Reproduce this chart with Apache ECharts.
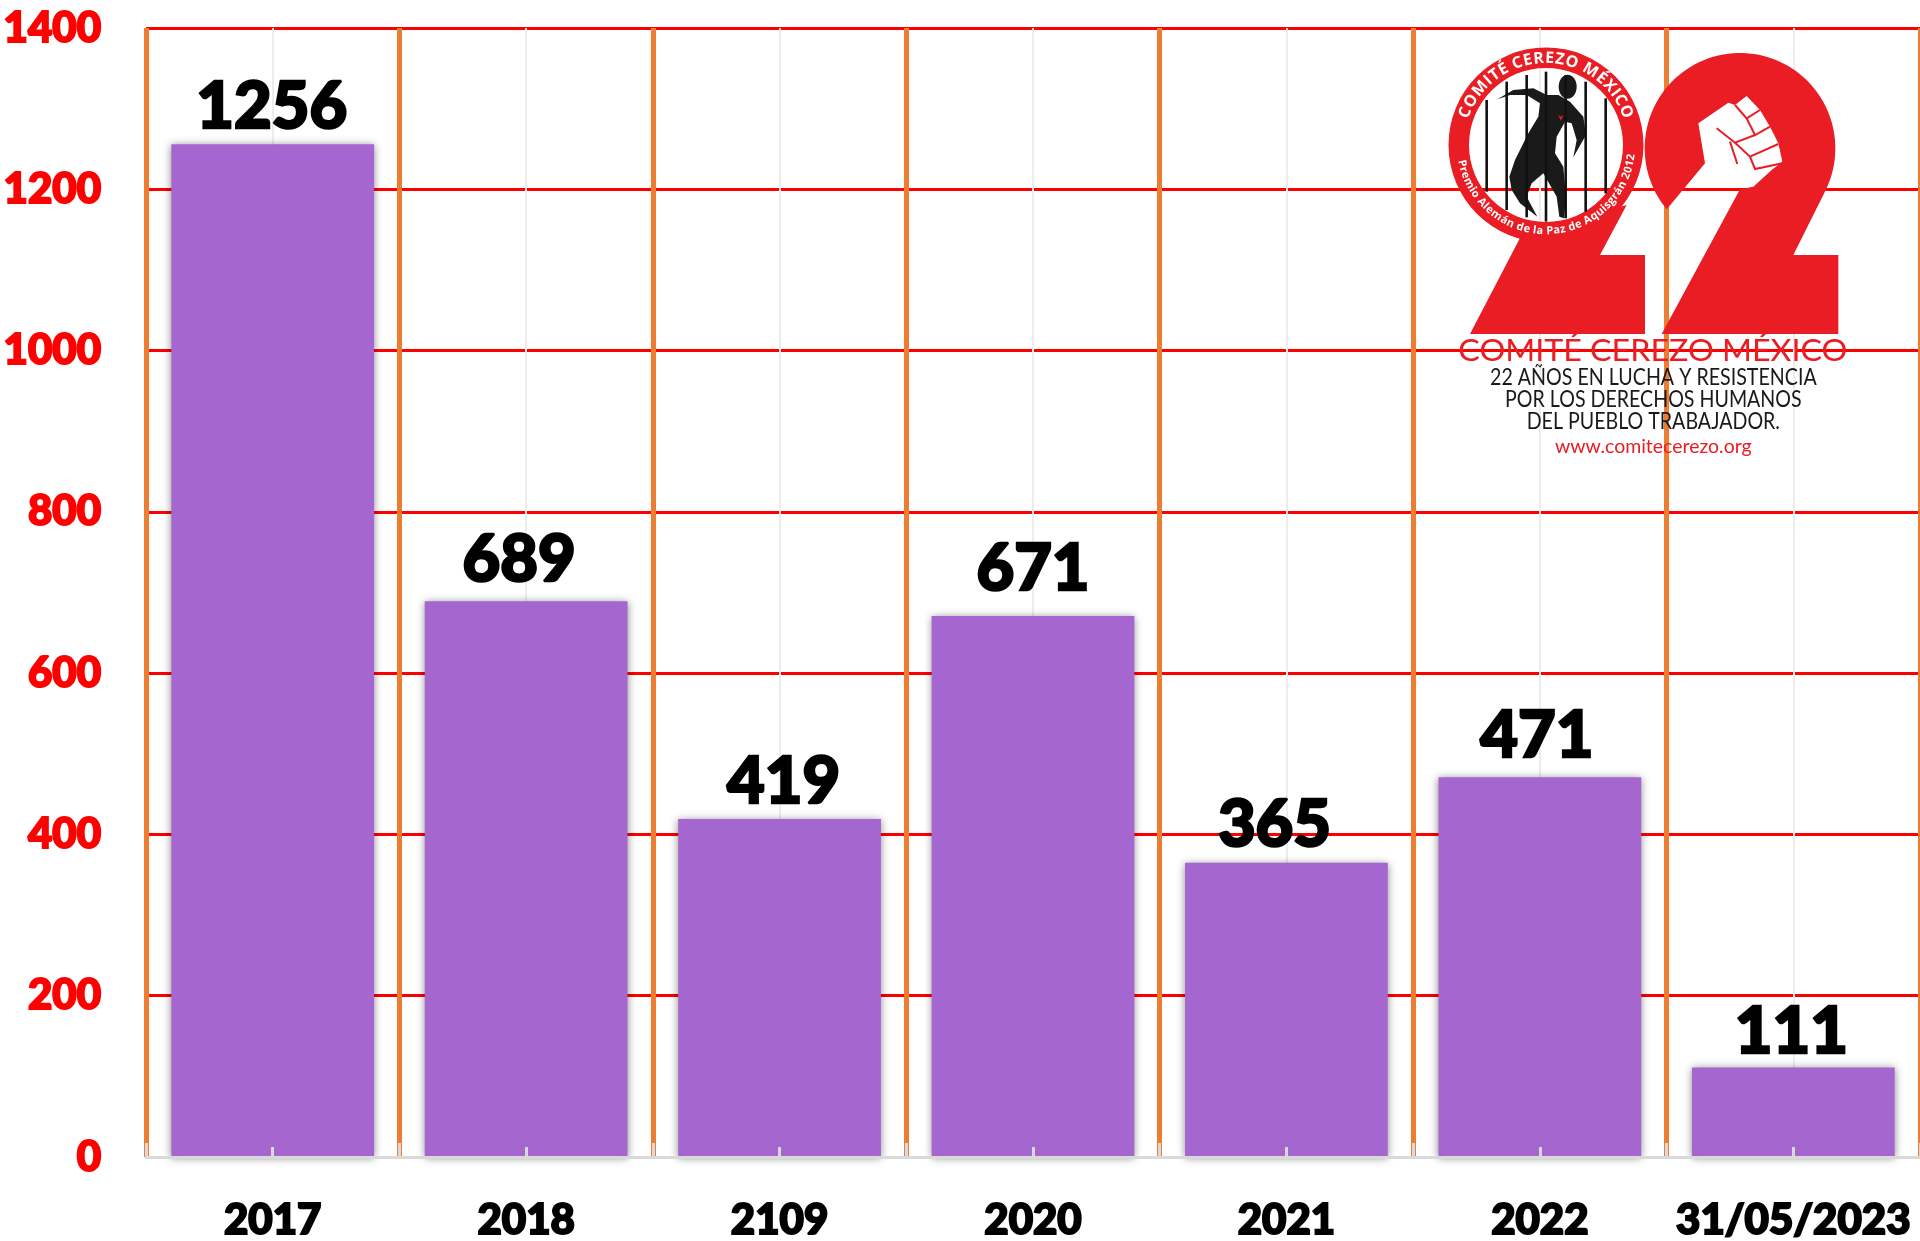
<!DOCTYPE html>
<html>
<head>
<meta charset="utf-8">
<style>html,body{margin:0;padding:0;background:#fff}#c{width:1920px;height:1241px}</style>
<script src="https://cdn.jsdelivr.net/npm/echarts@6/dist/echarts.min.js"></script>
</head>
<body>
<div id="c"></div>
<script>
const categories = ['2017','2018','2109','2020','2021','2022','31/05/2023'];
const values = [1256,689,419,671,365,471,111];
const labelOffsets = [[-1,0],[-7,-4],[4,0],[0,-9],[-12,0],[-3,-4],[-2,2]];

const RED = '#EA1C24';
const P = (x, y) => [1400 + x / 3, 20 + y / 3];
const Z = 100;
const poly = (pts, fill) => ({type:'polygon', z:Z, silent:true, shape:{points:pts.map(p => P(p[0],p[1]))}, style:{fill}});
const line = (pts, stroke, w) => ({type:'polyline', z:Z+2, silent:true, shape:{points:pts.map(p => P(p[0],p[1]))}, style:{stroke, fill:null, lineWidth:w}});
const measureCtx = document.createElement('canvas').getContext('2d');

function fitText(text, x0, x1, y, font, fill) {
  const a = P(x0, y), b = P(x1, y);
  measureCtx.font = font;
  const s = (b[0] - a[0]) / measureCtx.measureText(text).width;
  return {type:'text', z:Z+3, silent:true, x:(a[0]+b[0])/2, y:a[1], scaleX:s,
    style:{text, x:0, y:0, align:'center', verticalAlign:'middle', font, fill}};
}
function circleText(text, cx, cy, r, fromDeg, toDeg, font, bottom) {
  measureCtx.font = font;
  const widths = [...text].map(c => measureCtx.measureText(c).width);
  const total = widths.reduce((a,b) => a+b, 0);
  const out = [];
  let acc = 0;
  [...text].forEach((ch, i) => {
    const f = (acc + widths[i]/2) / total;
    acc += widths[i];
    const deg = fromDeg + (toDeg - fromDeg) * f;
    const posDeg = bottom ? 180 - deg : deg;
    const rad = posDeg * Math.PI / 180;
    const pos = P(cx + r*Math.sin(rad), cy - r*Math.cos(rad));
    const rot = bottom ? deg : -deg;
    out.push({type:'text', z:Z+3, silent:true, x:pos[0], y:pos[1], rotation:rot*Math.PI/180,
      style:{text:ch, x:0, y:0, align:'center', verticalAlign:'middle', font, fill:'#fff'}});
  });
  return out;
}
function arcPoints(cx, cy, r, a0, a1, n) {
  const pts = [];
  for (let i = 0; i <= n; i++) {
    const a = (a0 + (a1 - a0) * i / n) * Math.PI / 180;
    pts.push([cx + r*Math.cos(a), cy + r*Math.sin(a)]);
  }
  return pts;
}

const ringC = P(438, 375);
const logo = [
  poly([[362,650],[210,942],[735,942],[735,705],[600,705],[680,555]], RED),
  poly(arcPoints(1020,385,286,25.7,-219.8,80).concat([
    [915,430],[895,310],[985,248],[1005,255],[1040,228],[1080,270],[1110,320],[1135,370],[1147,425],
    [1115,450],[1060,500],[1020,508],[785,942],[1315,942],[1315,705],[1180,705]]), RED),
  line([[1005,255],[1040,295],[1080,270]], RED, 2),
  line([[1040,295],[1065,345],[1110,320]], RED, 2),
  line([[1065,345],[1005,368],[950,325]], RED, 2),
  line([[1005,368],[1050,410],[1135,372]], RED, 2),
  line([[1050,410],[1065,447],[1147,430]], RED, 2),
  line([[990,365],[1012,432]], RED, 2),
  {type:'ring', z:Z+1, silent:true, shape:{cx:ringC[0], cy:ringC[1], r:97.5, r0:77}, style:{fill:RED}},
  ...[[260,240,515],[320,185,570],[380,165,592],[438,155,605],[497,165,595],[557,185,575],[617,235,520]]
    .map(b => line([[b[0],b[1]],[b[0],b[2]]], '#111', 2.6)),
  poly([[292,238],[340,210],[400,205],[440,225],[475,225],[510,245],[550,290],[558,345],[520,412],[530,360],[515,310],[495,305],
        [470,350],[465,400],[490,440],[498,530],[492,595],[478,590],[470,530],[430,460],[395,490],[380,530],[412,590],[360,550],
        [335,510],[328,470],[345,420],[385,340],[415,290],[420,250],[380,225],[330,225]], '#1a1a1a'),
  {type:'ellipse', z:Z+1, silent:true, shape:{cx:P(503,0)[0], cy:P(0,200)[1], rx:9, ry:12}, style:{fill:'#1a1a1a'}},
  poly([[474,285],[482,290],[490,285],[483,302]], RED),
  ...circleText('COMITÉ CEREZO MÉXICO', 438, 375, 260, -72, 72, '700 16px "Open Sans"', false),
  ...circleText('Premio Alemán de la Paz de Aquisgrán 2012', 438, 375, 258, -80, 84, '700 11px "Open Sans"', true),
  fitText('COMITÉ CEREZO MÉXICO', 175, 1342, 992, '400 31px Lato', RED),
  fitText('22 AÑOS EN LUCHA Y RESISTENCIA', 270, 1250, 1072, '400 23px Lato', '#1a1a1a'),
  fitText('POR LOS DERECHOS HUMANOS', 315, 1205, 1139, '400 23px Lato', '#1a1a1a'),
  fitText('DEL PUEBLO TRABAJADOR.', 380, 1140, 1206, '400 23px Lato', '#1a1a1a'),
  fitText('www.comitecerezo.org', 465, 1055, 1282, '400 19px Lato', RED)
];

const chart = echarts.init(document.getElementById('c'), null, {renderer:'canvas'});
const boldFont = {fontFamily:'Lato', fontWeight:900};
chart.setOption({
  animation:false,
  backgroundColor:'#fff',
  grid:{left:146, right:0, top:28, bottom:84, containLabel:false, outerBoundsMode:'none'},
  xAxis:[
    {type:'category', data:categories, position:'bottom', z:5,
     axisLine:{show:true, lineStyle:{color:'#D9D9D9', width:3}},
     axisTick:{show:true, inside:true, length:14, lineStyle:{color:'#D9D9D9', width:3}},
     axisLabel:{interval:0, margin:42, color:'#000', fontSize:42, ...boldFont, textBorderColor:'#000', textBorderWidth:2},
     splitLine:{show:true, interval:0, lineStyle:{color:'#ED7D31', width:5}}},
    {type:'category', data:categories, position:'bottom', z:0,
     axisLine:{show:false}, axisTick:{show:false}, axisLabel:{show:false},
     splitLine:{show:true, alignWithLabel:true, interval:0, lineStyle:{color:'#EDEDED', width:2}}},
    {type:'category', data:categories, position:'bottom', z:6,
     axisLine:{show:false}, axisLabel:{show:false}, splitLine:{show:false},
     axisTick:{show:true, inside:true, alignWithLabel:true, length:10, lineStyle:{color:'#D9D9D9', width:3}}}
  ],
  yAxis:{type:'value', min:0, max:1400, interval:200,
    axisLine:{show:false}, axisTick:{show:false},
    axisLabel:{margin:45, color:'#FF0000', fontSize:42, ...boldFont, textBorderColor:'#FF0000', textBorderWidth:2, formatter:v => String(v)},
    splitLine:{show:true, lineStyle:{color:'#FF0000', width:3}}},
  series:[{
    type:'bar', xAxisIndex:0, barCategoryGap:'20%',
    data:values.map((v,i) => ({value:v, label:{offset:labelOffsets[i]}})),
    itemStyle:{color:'#A566D0', shadowBlur:8, shadowColor:'rgba(0,0,0,0.45)', shadowOffsetX:0, shadowOffsetY:1},
    label:{show:true, position:'top', distance:5, color:'#000', fontSize:65, ...boldFont, textBorderColor:'#000', textBorderWidth:2.5}
  }],
  graphic:{elements:logo}
});
</script>
</body>
</html>
